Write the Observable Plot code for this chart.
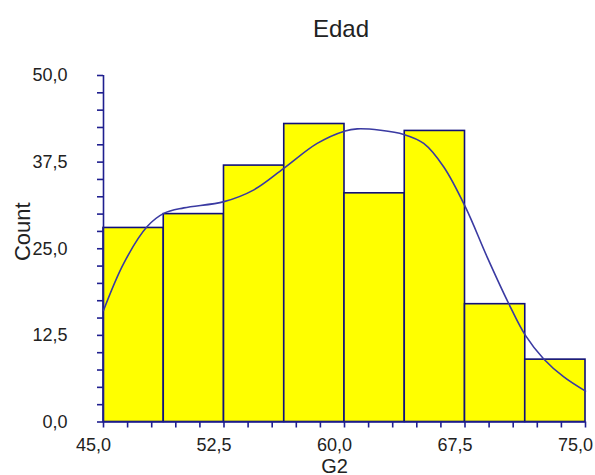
<!DOCTYPE html>
<html>
<head>
<meta charset="utf-8">
<script src="https://cdn.jsdelivr.net/npm/d3@7"></script>
<script src="https://cdn.jsdelivr.net/npm/@observablehq/plot@0.6"></script>
<style>
  html, body { margin: 0; padding: 0; background: #fff; }
  #chart { position: relative; width: 595px; height: 475px; font-family: "Liberation Sans", Arial, sans-serif; }
  #title { height: 50px; position: relative; }
  #title span { position: absolute; left: 241px; width: 200px; top: 17px; line-height: 24px; text-align: center; font-size: 24px; color: #222; }
  svg { overflow: visible; display: block; }
</style>
</head>
<body>
<div id="chart">
  <div id="title"><span>Edad</span></div>
</div>
<script>
// Histogram of G2 (age): bin edges and counts
const binEdges = [45, 48.75, 52.5, 56.25, 60, 63.75, 67.5, 71.25, 75];
const counts = [28, 30, 37, 43, 33, 42, 17, 9];

// Smoothed density overlay, in count units
const curveX = [45.0, 46.26, 47.72, 48.75, 50.0, 52.5, 54.36, 56.22, 58.3, 60.04, 60.79, 62.24, 63.69, 64.93, 66.18, 67.53, 68.88, 70.22, 71.26, 72.4, 73.65, 75.0];
const curveY = [16.1, 22.9, 28.2, 30.1, 30.9, 31.8, 33.5, 36.6, 40.2, 42.0, 42.3, 42.1, 41.5, 40.2, 36.8, 31.0, 23.8, 17.1, 12.5, 9.1, 6.5, 4.45];

// Axis ticks and labels
const yMajor = [0, 12.5, 25, 37.5, 50];
const yMinor = d3.range(0, 50.001, 2.5);
const xMajor = [45, 52.5, 60, 67.5, 75];
const xMinor = d3.range(45, 75.001, 1.5);

const bins = counts.map((c, i) => ({x1: binEdges[i], x2: binEdges[i + 1], count: c}));
const curve = curveX.map((x, i) => ({x, y: curveY[i]}));
const fmt = d => d3.format(".1f")(d).replace(".", ",");

const axisColor = "#1f1f8f";
const barStroke = "#10107a";
const lineColor = "#3a3aa2";

const chart = Plot.plot({
  width: 595,
  height: 425,
  marginLeft: 103,
  marginRight: 10,
  marginTop: 25,
  marginBottom: 53.5,
  style: {fontFamily: '"Liberation Sans", Arial, sans-serif', fontSize: "18px", color: "#222", background: "#fff"},
  x: {domain: [45, 75], axis: null},
  y: {domain: [0, 50], axis: null},
  marks: [
    // bars
    Plot.rectY(bins, {x1: "x1", x2: "x2", y: "count", fill: "#ffff00", stroke: barStroke, strokeWidth: 1.6}),
    // axis lines
    Plot.ruleX([45], {y1: 0, y2: 50, stroke: axisColor, strokeWidth: 1.6}),
    Plot.ruleY([0], {x1: 45, x2: 75, stroke: axisColor, strokeWidth: 1.6}),
    // y ticks pointing left, x ticks pointing down
    Plot.ruleY(yMinor, {x1: 45, x2: 45, insetLeft: -6, stroke: axisColor, strokeWidth: 1.6}),
    Plot.ruleX(xMinor, {y1: 0, y2: 0, insetBottom: -6, stroke: axisColor, strokeWidth: 1.6}),
    // tick labels
    Plot.text(yMajor, {y: d => d, text: fmt, frameAnchor: "left", textAnchor: "end", dx: -36, fontSize: 18, fill: "#222"}),
    Plot.text(xMajor, {x: d => d, text: fmt, frameAnchor: "bottom", lineAnchor: "top", dy: 16.5, dx: -10, fontSize: 18, fill: "#222"}),
    // density curve
    Plot.line(curve, {x: "x", y: "y", curve: "catmull-rom", stroke: lineColor, strokeWidth: 1.6}),
    // axis titles
    Plot.text(["G2"], {frameAnchor: "bottom", textAnchor: "middle", lineAnchor: "bottom", dx: -10, dy: 50.5, fontSize: 20, fill: "#222"}),
    Plot.text(["Count"], {frameAnchor: "left", textAnchor: "middle", lineAnchor: "bottom", rotate: -90, dx: -74, dy: -17, fontSize: 22, fill: "#222"})
  ]
});

document.getElementById("chart").appendChild(chart);
</script>
</body>
</html>
